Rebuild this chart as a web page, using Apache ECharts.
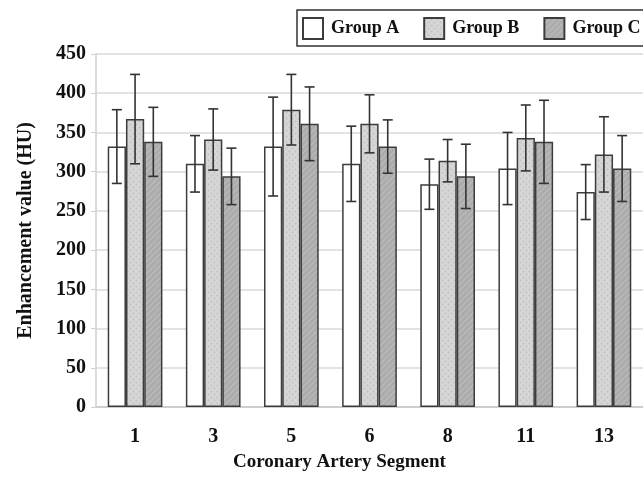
<!DOCTYPE html>
<html>
<head>
<meta charset="utf-8">
<script src="https://cdn.jsdelivr.net/npm/echarts@6/dist/echarts.min.js"></script>
<style>
  html, body { margin: 0; padding: 0; background: #fff; }
  #main { width: 643px; height: 477px; }
</style>
</head>
<body>
<div id="main"></div>
<script>
// data
var categories = ['1', '3', '5', '6', '8', '11', '13'];
var groupNames = ['Group A', 'Group B', 'Group C'];
var groupA = [332, 310, 332, 310, 284, 304, 274];
var groupB = [367, 341, 379, 361, 314, 343, 322];
var groupC = [338, 294, 361, 332, 294, 338, 304];
var errA = [47, 36, 63, 48, 32, 46, 35];
var errB = [57, 39, 45, 37, 27, 42, 48];
var errC = [44, 36, 47, 34, 41, 53, 42];
var yTicks = { min: 0, max: 450, interval: 50 };

var serif = '"Liberation Serif", "Times New Roman", serif';

// fill patterns
function dotPattern() {
    var c = document.createElement('canvas');
    c.width = 6; c.height = 6;
    var ctx = c.getContext('2d');
    ctx.fillStyle = '#d6d6d6';
    ctx.fillRect(0, 0, 6, 6);
    ctx.fillStyle = '#c2c2c2';
    ctx.beginPath(); ctx.arc(1.5, 1.5, 1, 0, Math.PI * 2); ctx.fill();
    ctx.beginPath(); ctx.arc(4.5, 4.5, 1, 0, Math.PI * 2); ctx.fill();
    return c;
}
function hatchPattern() {
    var c = document.createElement('canvas');
    c.width = 6; c.height = 6;
    var ctx = c.getContext('2d');
    ctx.fillStyle = '#acacac';
    ctx.fillRect(0, 0, 6, 6);
    ctx.strokeStyle = '#bdbdbd';
    ctx.lineWidth = 1.2;
    ctx.beginPath();
    ctx.moveTo(0, 6); ctx.lineTo(6, 0);
    ctx.moveTo(-3, 3); ctx.lineTo(3, -3);
    ctx.moveTo(3, 9); ctx.lineTo(9, 3);
    ctx.stroke();
    return c;
}

var fills = ['#ffffff', { image: dotPattern(), repeat: 'repeat' }, { image: hatchPattern(), repeat: 'repeat' }];
var values = [groupA, groupB, groupC];
var errs = [errA, errB, errC];

function errorRender(k) {
    return function (params, api) {
        var idx = api.value(0);
        var lo = api.coord([idx, api.value(1)]);
        var hi = api.coord([idx, api.value(2)]);
        var band = api.size([1, 0])[0];
        var bw = band * 0.7 / 3;
        var x = lo[0] + (k - 1) * bw;
        var cap = 5;
        var st = { stroke: '#333', lineWidth: 1.6 };
        return {
            type: 'group',
            children: [
                { type: 'line', shape: { x1: x, y1: hi[1], x2: x, y2: lo[1] }, style: st },
                { type: 'line', shape: { x1: x - cap, y1: hi[1], x2: x + cap, y2: hi[1] }, style: st },
                { type: 'line', shape: { x1: x - cap, y1: lo[1], x2: x + cap, y2: lo[1] }, style: st }
            ]
        };
    };
}

var series = [];
for (var k = 0; k < 3; k++) {
    series.push({
        name: groupNames[k],
        type: 'bar',
        data: values[k],
        barGap: '0%',
        barCategoryGap: '30%',
        itemStyle: { color: fills[k], borderColor: '#3c3c3c', borderWidth: 1.5 },
        emphasis: { disabled: true }
    });
}
for (var k = 0; k < 3; k++) {
    var ed = values[k].map(function (v, i) { return [i, v - errs[k][i], v + errs[k][i]]; });
    series.push({
        name: groupNames[k] + ' err',
        type: 'custom',
        renderItem: errorRender(k),
        encode: { x: 0, y: [1, 2] },
        data: ed,
        z: 5,
        silent: true
    });
}

var myChart = echarts.init(document.getElementById('main'));
var option = {
    backgroundColor: '#fff',
    animation: false,
    legend: {
        data: groupNames,
        icon: 'rect',
        left: 297,
        top: 10,
        width: 360,
        padding: [7, 30, 6, 5],
        itemWidth: 20,
        itemHeight: 21,
        itemGap: 24,
        borderColor: '#333',
        borderWidth: 1.5,
        textStyle: { fontFamily: serif, fontWeight: 'bold', fontSize: 18, color: '#111', padding: [0, 0, 0, 3] }
    },
    grid: { left: 96, top: 54, width: 553, height: 353 },
    xAxis: {
        type: 'category',
        data: categories,
        axisLine: { lineStyle: { color: '#c8c8c8', width: 1.5 } },
        axisTick: { inside: true, length: 5, lineStyle: { color: '#c8c8c8' } },
        axisLabel: { fontFamily: serif, fontWeight: 'bold', fontSize: 20, color: '#111', margin: 20 }
    },
    yAxis: {
        type: 'value',
        min: yTicks.min,
        max: yTicks.max,
        interval: yTicks.interval,
        name: 'Enhancement value (HU)',
        nameLocation: 'middle',
        nameGap: 60,
        nameTextStyle: { fontFamily: serif, fontWeight: 'bold', fontSize: 20, color: '#111' },
        axisLine: { show: true, lineStyle: { color: '#d0d0d0', width: 1.5 } },
        axisTick: { show: true, length: 5, lineStyle: { color: '#d0d0d0' } },
        axisLabel: { fontFamily: serif, fontWeight: 'bold', fontSize: 20, color: '#111', margin: 10 },
        splitLine: { lineStyle: { color: '#dadada', width: 1.5 } }
    },
    graphic: [{
        type: 'text',
        left: 233,
        top: 453,
        style: { text: 'Coronary Artery Segment', font: 'bold 19px ' + serif, fill: '#111' }
    }],
    series: series
};
myChart.setOption(option);
</script>
</body>
</html>
